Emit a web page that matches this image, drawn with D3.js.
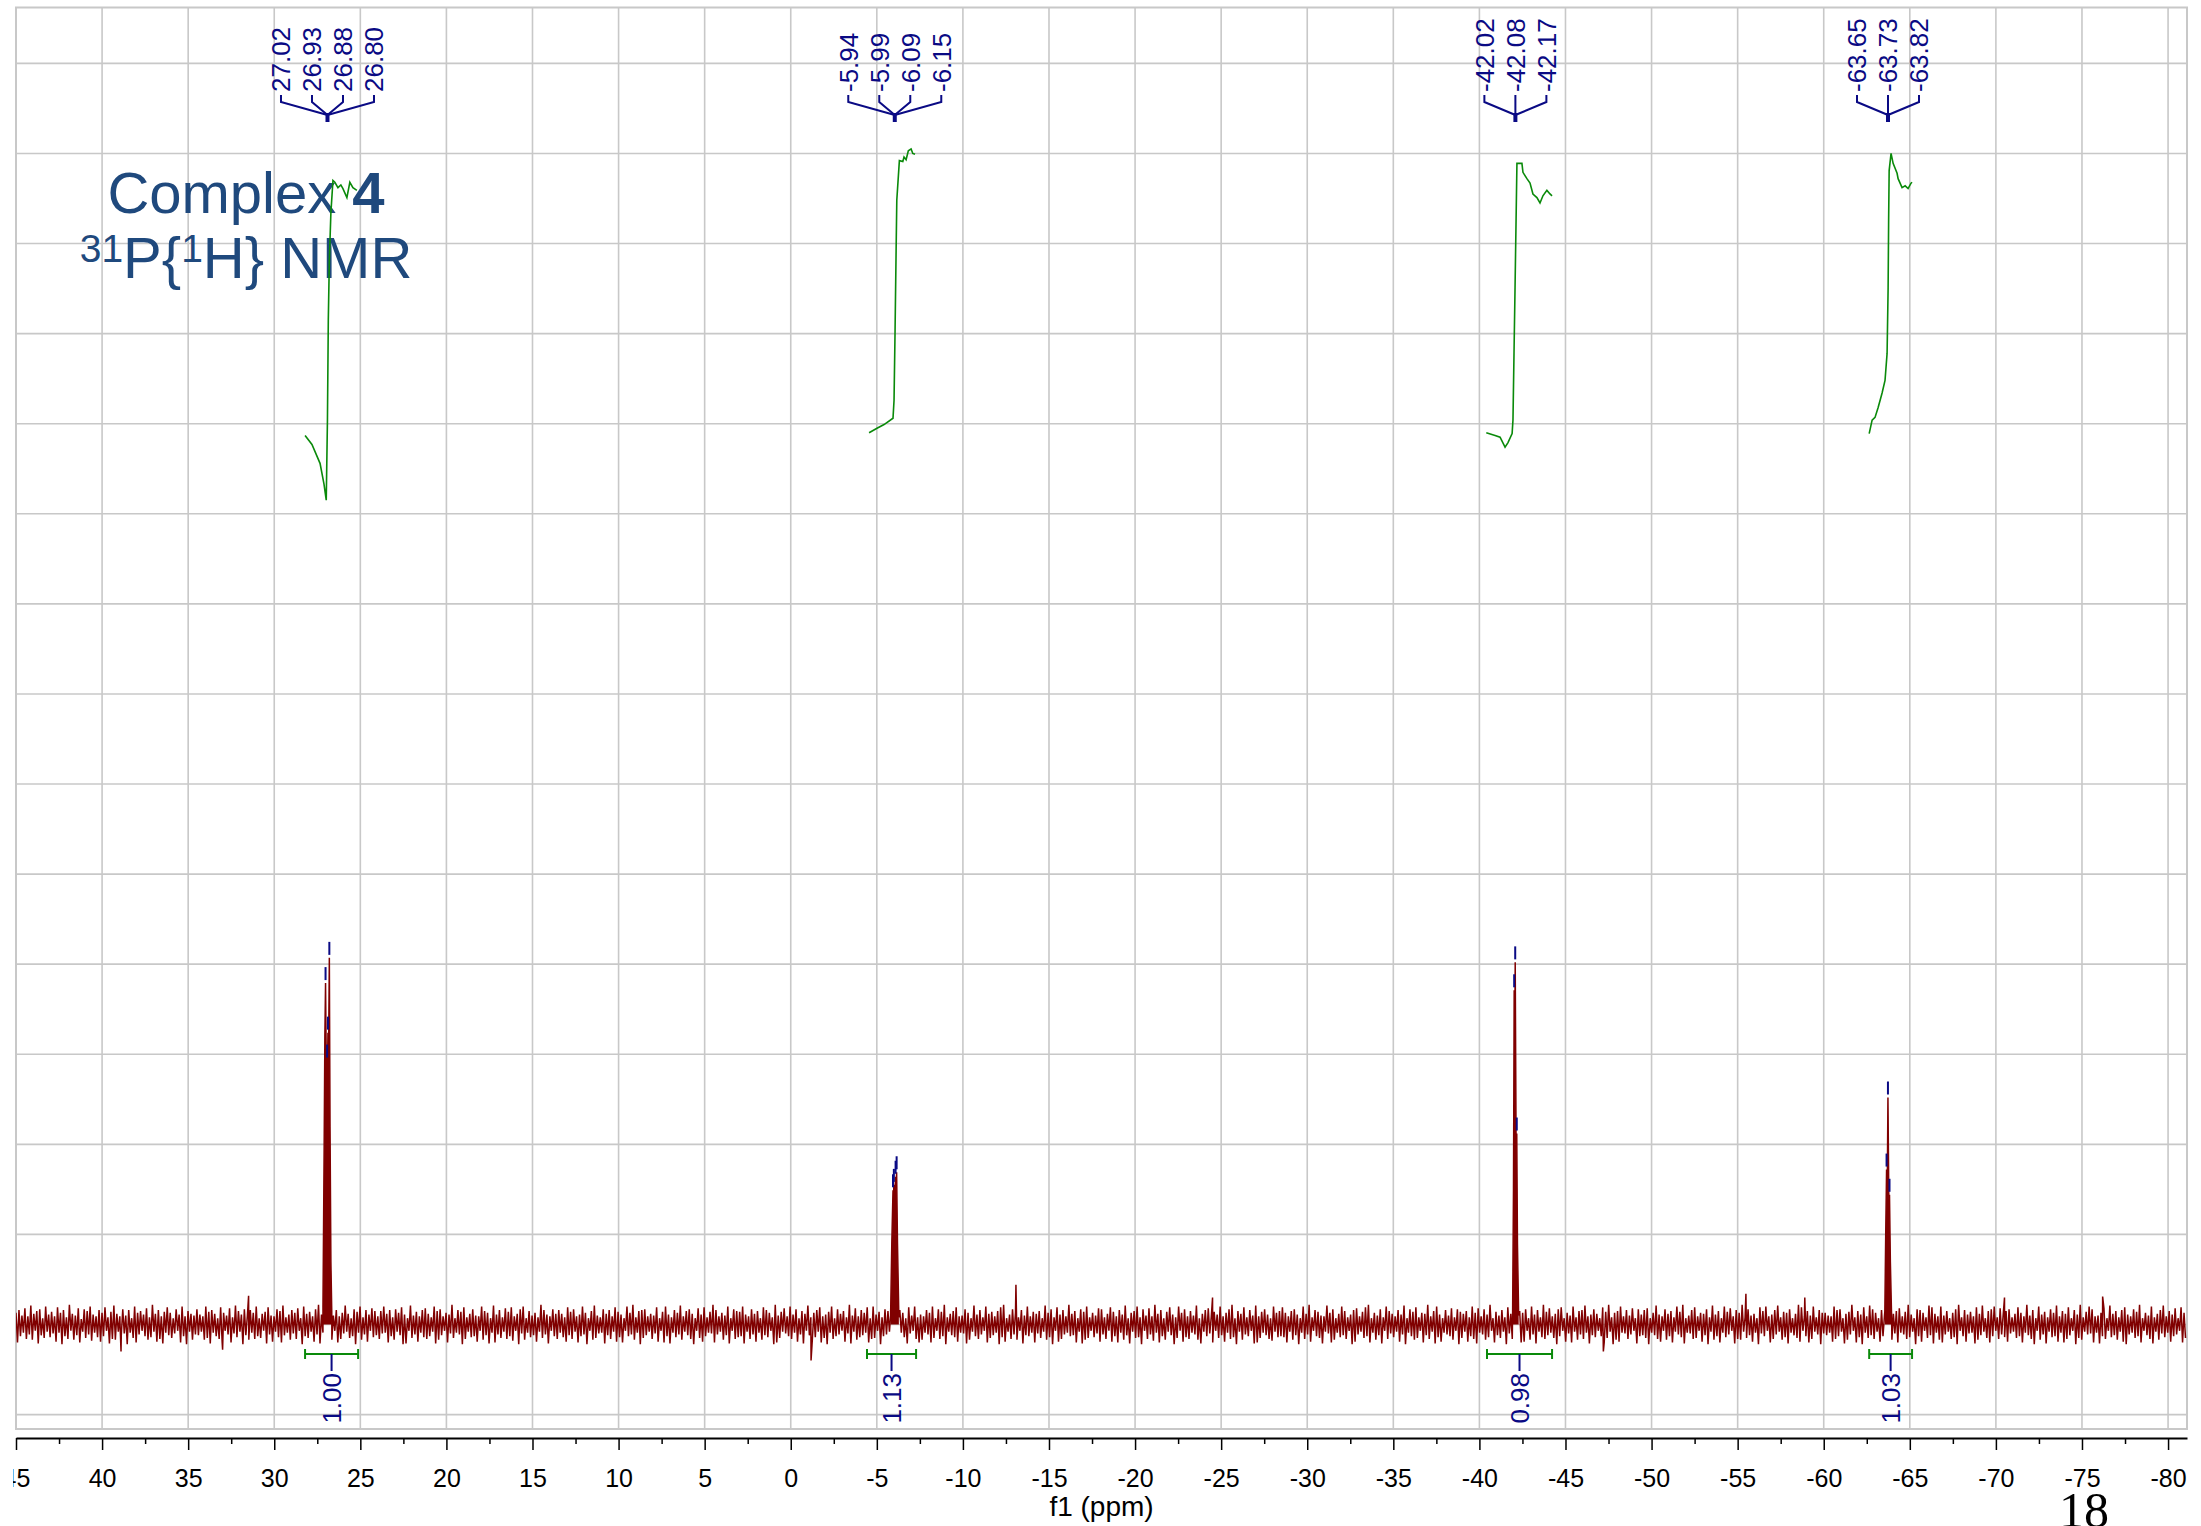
<!DOCTYPE html>
<html>
<head>
<meta charset="utf-8">
<script src="https://cdn.jsdelivr.net/npm/d3@7"></script>
<style>
  html, body { margin: 0; padding: 0; background: #ffffff; }
  svg { display: block; }
</style>
</head>
<body>
<svg id="chart" width="2201" height="1526"></svg>
<script>
// ---------------- data ----------------
// chemical-shift window (ppm, high field to the right) and intensity window (arbitrary units)
const ppmDomain = [45, -81.1];
const intensityDomain = [-116, 1462];

// axis tick labels (ppm)
const tickValues = [45, 40, 35, 30, 25, 20, 15, 10, 5, 0, -5, -10, -15, -20, -25, -30, -35,
                    -40, -45, -50, -55, -60, -65, -70, -75, -80];
const gridIntensities = [-100, 0, 100, 200, 300, 400, 500, 600, 700, 800, 900, 1000, 1100, 1200, 1300, 1400];

// picked peaks: shifts (ppm) and peak-top intensities
const peakShifts = [
  [27.02, 26.93, 26.88, 26.80],
  [-5.94, -5.99, -6.09, -6.15],
  [-42.02, -42.08, -42.17],
  [-63.65, -63.73, -63.82]
];
const peakHeights = [
  [379, 293, 324, 407],
  [149, 155, 164, 169],
  [371, 402, 212],
  [172, 252, 144]
];
// feet and valleys of each multiplet
const peakShoulders = [
  [[27.17, 20], [27.10, 200], [27.06, 320], [26.975, 280], [26.905, 285], [26.84, 310], [26.76, 220], [26.71, 70], [26.66, 15]],
  [[-5.80, 10], [-5.87, 90], [-5.965, 135], [-6.04, 142], [-6.12, 152], [-6.20, 90], [-6.28, 8]],
  [[-41.93, 15], [-41.98, 150], [-42.05, 310], [-42.13, 205], [-42.21, 90], [-42.28, 10]],
  [[-63.55, 15], [-63.60, 100], [-63.69, 152], [-63.78, 140], [-63.87, 70], [-63.94, 10]]
];

// integrals: region (ppm), value, and running-integral trace (ppm, intensity)
const integralRegions = [[28.21, 25.13], [-4.43, -7.28], [-40.44, -44.22], [-62.64, -65.13]];
const integralValues = ["1.00", "1.13", "0.98", "1.03"];
const integralCurves = [
  [[28.21, 987], [27.81, 977], [27.34, 956], [27.11, 933], [26.98, 915], [26.91, 1004], [26.86, 1115],
   [26.80, 1181], [26.71, 1234], [26.59, 1270], [26.48, 1268], [26.30, 1262], [26.13, 1265], [26.01, 1261],
   [25.78, 1251], [25.61, 1268], [25.43, 1262], [25.20, 1259]],
  [[-4.55, 990], [-5.01, 995], [-5.42, 999], [-5.94, 1006], [-6.00, 1026], [-6.06, 1104], [-6.12, 1192],
   [-6.16, 1248], [-6.31, 1292], [-6.51, 1291], [-6.58, 1296], [-6.70, 1293], [-6.83, 1303], [-6.99, 1305],
   [-7.09, 1300], [-7.22, 1299]],
  [[-40.40, 990], [-40.91, 987], [-41.20, 985], [-41.49, 974], [-41.66, 979], [-41.90, 989], [-41.95, 1004],
   [-42.01, 1078], [-42.07, 1151], [-42.13, 1226], [-42.18, 1289], [-42.47, 1289], [-42.53, 1279],
   [-42.76, 1272], [-42.94, 1267], [-43.11, 1255], [-43.34, 1251], [-43.52, 1245], [-43.69, 1253],
   [-43.92, 1259], [-44.10, 1255], [-44.22, 1253]],
  [[-62.64, 989], [-62.81, 1004], [-62.98, 1007], [-63.16, 1018], [-63.39, 1034], [-63.56, 1048],
   [-63.68, 1078], [-63.74, 1151], [-63.77, 1226], [-63.80, 1281], [-63.91, 1300], [-64.03, 1289],
   [-64.26, 1278], [-64.32, 1272], [-64.55, 1262], [-64.73, 1264], [-64.90, 1261], [-65.07, 1267],
   [-65.13, 1268]]
];

// baseline noise, one character per sample pair (base-36 amplitude above / below zero)
const noiseHigh =
  "dgai9lcfh7kbe9jdg8mcai6hfkb9gdj8elc9hag7kdfbi8mcg9ejd7hbk9fca" +
  "hb9kegc7jdai8lfbh9gdk7ceja9hfl8bgdi7kce9hmb8fjag9dlc7hek8gbif" +
  "9fkcg8hdjb7lae9gic8kfh9dbm7gej8cha9kfd7lbg8iej9chk7fad8mgb9hc" +
  "gc8jeh9bkd7fla8hcg9jeb7kdm8fgh9caj7ekb8gdl9fhc7ibj8emg9dak7hf" +
  "ekb9hcf7jgd8maei9kbh7fcl8dgj9bek7hcf8mai9gdj7kbe8hfc9lgd7jak8" +
  "b9gdk7hem8cfj9ahd7lbg8kce9fjm7bhd8gak9ecf7ldh8jbg9mcf7hek8dai" +
  "h8cje9gbl7dfk8hai9mcg7ejb8kdh9fal7cgi8ebk9dhm7fcj8gal9ehb7kdf" +
  "jd9fhb7kcm8gea9ldh7ckf8bgi9ejm7dah8kfc9gbl7hej8dcm9fkb7gai8he" +
  "cf8kdi9hbm7eag8jcl9fdh7kbg8mei9chj7dak8fgl9bhc7jem8dfk9gai7hb" +
  "gi7dlb9hcf8kem7agj9dch8lbf7kei9gdm8hac7jfk9bgl8edh7cmj9fak8gd" +
  "da9kgh7cem8fbj9lhd7gak8cfi9emb7hgd8ljc9kaf7dhm8gbe9jcl7fhk8ia" +
  "fh8cjd9mag7kbe8hdl9fcj7gbm8ekh9adi7lcf8gjb9hem7dak8cgl9fbi7jd";
const noiseLow =
  "kd9gbh7lcf8eaj9mdg7hck8fbi9ejd7lgh8cam9fkb7dhe8jgl9cfa7kdm8hb" +
  "c8hfl9dgj7bkae8mch9gdf7lbj8ekc9hag7mdf8jbl9ceh7kga8fdm9hbj7ec" +
  "ga9kdh8cml7fbj9egd8lhc7kaf9bmg8edj7hcl9kbf8gdi7mah9ecj8fbl7dg" +
  "9ejcg8kdbm7hfa9lcg8jek7dbh9mfc8gaj7kdl9ebh8cgm7fjd9akb8hcl7ge" +
  "dl8gbj9hce7mkf8adg9jbl7che8kfm9gdb7jal8hec9kgf7mdb8jch9ela7gk" +
  "h9bkf7gdm8cej9alh8dgb7kfc9mej8gbh7lcd9kaf8hem7jgb9dck8lhf7eaj" +
  "bg7jdk9hcl8fem7gbi9kdh8cmf7jeg9bhl8dak7fcj9gem8hbd7lkf9cgi8ed" +
  "ek8hcm9gbj7dfl8akh9ecg7mjb8fdk9hcl7gae8jbm9dhf7kcg8lej9bdh7mf" +
  "8jdgl9bhe7kcf8mag9dkj7hbl8egc9fmd7jak8hbg9lce7dkf8mhj9agb7ldc" +
  "fm9cgj7hdk8bel9agf7jcm8hdk9eb7lgh8fcj9mad7kgb8hel9cfj7dkg8bma" +
  "c9jgd8lhb7kem9fcg8jdl7hak9bge8mdj7fcl9hkb8gem7dja9lhc8fkd7gbe" +
  "ja8fdk9cgm7hbl8edj9kgc7mfh8bak9ldg7ech8jmb9fdk7cgl8hae9jdb7kfg";
// isolated noise excursions (ppm, intensity)
const noiseSpikes = [[31.49, 32], [38.9, -30], [33.0, -28], [-1.18, -40], [-13.08, 44], [-24.5, 30],
                     [-47.2, -30], [-55.48, 34], [-58.9, 30], [-70.5, 30], [-76.2, 31]];

// ---------------- drawing ----------------
const W = 2201, H = 1526;
const plot = { left: 16, right: 2187, top: 7.5, bottom: 1429 };
const axisY = 1438;

const x = d3.scaleLinear().domain(ppmDomain).range([plot.left, plot.right]);
const y = d3.scaleLinear().domain(intensityDomain).range([plot.bottom, plot.top]);

const svg = d3.select("#chart");
const sansFont = "'Liberation Sans', Arial, sans-serif";
const gridColor = "#c8c8c8";
const navy = "#0a0a84";
const green = "#0a8a0a";
const maroon = "#800000";

svg.append("rect").attr("width", W).attr("height", H).attr("fill", "#ffffff");

const defs = svg.append("defs");
defs.append("clipPath").attr("id", "plotClip")
  .append("rect").attr("x", plot.left).attr("y", plot.top)
  .attr("width", plot.right - plot.left).attr("height", plot.bottom - plot.top);
defs.append("clipPath").attr("id", "axisClip")
  .append("rect").attr("x", plot.left - 3).attr("y", axisY - 5)
  .attr("width", W - plot.left + 3).attr("height", H - axisY + 5);

// grid
const grid = svg.append("g").attr("stroke", gridColor).attr("stroke-width", 1.6);
grid.selectAll("line.v").data(tickValues).join("line")
  .attr("x1", d => x(d)).attr("x2", d => x(d))
  .attr("y1", plot.top).attr("y2", plot.bottom);
grid.selectAll("line.h").data(gridIntensities).join("line")
  .attr("x1", plot.left).attr("x2", plot.right)
  .attr("y1", d => y(d)).attr("y2", d => y(d));
svg.append("rect")
  .attr("x", plot.left).attr("y", plot.top)
  .attr("width", plot.right - plot.left).attr("height", plot.bottom - plot.top)
  .attr("fill", "none").attr("stroke", gridColor).attr("stroke-width", 2);

// title
const title = svg.append("g").attr("fill", "#1f497d").attr("font-family", sansFont)
  .attr("text-anchor", "middle");
const t1 = title.append("text").attr("x", 246).attr("y", 213).attr("font-size", 58);
t1.append("tspan").text("Complex ");
t1.append("tspan").attr("font-weight", "bold").text("4");
const t2 = title.append("text").attr("x", 246).attr("y", 278).attr("font-size", 58);
t2.append("tspan").attr("font-size", 39).attr("dy", -16).text("31");
t2.append("tspan").attr("dy", 16).text("P{");
t2.append("tspan").attr("font-size", 39).attr("dy", -16).text("1");
t2.append("tspan").attr("dy", 16).text("H} NMR");

// spectrum trace
const nNoise = Math.min(noiseHigh.length, noiseLow.length);
const noiseStep = (ppmDomain[0] - ppmDomain[1]) / nNoise;
let trace = [];
for (let i = 0; i < nNoise; i++) {
  const p = ppmDomain[0] - i * noiseStep;
  trace.push([p, parseInt(noiseHigh[i], 36)]);
  trace.push([p - noiseStep / 2, -parseInt(noiseLow[i], 36)]);
}
noiseSpikes.forEach(s => trace.push(s));
const multiplets = peakShifts.map((shifts, g) => {
  const tops = shifts.map((p, k) => [p, peakHeights[g][k]]);
  return tops.concat(peakShoulders[g]).sort((a, b) => b[0] - a[0]);
});
multiplets.forEach(m => {
  const hi = m[0][0], lo = m[m.length - 1][0];
  trace = trace.filter(d => d[0] > hi || d[0] < lo);
  trace = trace.concat(m);
});
trace.sort((a, b) => b[0] - a[0]);

const spec = svg.append("g").attr("clip-path", "url(#plotClip)");
// solid body under each multiplet
multiplets.forEach(m => {
  spec.append("path")
    .attr("d", d3.area().x(d => x(d[0])).y0(y(0)).y1(d => y(d[1]))(m))
    .attr("fill", maroon);
});
spec.append("path")
  .attr("d", d3.line().x(d => x(d[0])).y(d => y(d[1]))(trace))
  .attr("fill", "none").attr("stroke", maroon).attr("stroke-width", 1.5)
  .attr("stroke-linejoin", "miter");

// peak-pick markers above each line
const markers = svg.append("g").attr("stroke", navy).attr("stroke-width", 2);
peakShifts.forEach((shifts, g) => {
  shifts.forEach((p, k) => {
    const top = y(peakHeights[g][k]);
    markers.append("line")
      .attr("x1", x(p)).attr("x2", x(p))
      .attr("y1", top - 3).attr("y2", top - 16);
  });
});

// integral traces
const integ = svg.append("g").attr("fill", "none").attr("stroke", green).attr("stroke-width", 1.6);
integralCurves.forEach(c => {
  integ.append("path").attr("d", d3.line().x(d => x(d[0])).y(d => y(d[1]))(c));
});

// integral brackets and values
const bracketY = 1354;
const brackets = svg.append("g");
integralRegions.forEach((r, i) => {
  const x1 = x(r[0]), x2 = x(r[1]), xm = x((r[0] + r[1]) / 2);
  const g = brackets.append("g");
  g.append("line").attr("x1", x1).attr("x2", x2).attr("y1", bracketY).attr("y2", bracketY)
    .attr("stroke", green).attr("stroke-width", 2);
  [x1, x2].forEach(xx => g.append("line").attr("x1", xx).attr("x2", xx)
    .attr("y1", bracketY - 5).attr("y2", bracketY + 5).attr("stroke", green).attr("stroke-width", 2));
  g.append("line").attr("x1", xm).attr("x2", xm).attr("y1", bracketY).attr("y2", bracketY + 17)
    .attr("stroke", navy).attr("stroke-width", 2);
  g.append("text")
    .attr("transform", `translate(${xm},${bracketY + 19}) rotate(-90)`)
    .attr("text-anchor", "end").attr("dy", "0.36em")
    .attr("font-family", sansFont).attr("font-size", 26).attr("fill", navy)
    .text(integralValues[i]);
});

// peak labels with connector lines
const labelGap = 31;
const labelBottom = 92;
const lab = svg.append("g");
peakShifts.forEach(shifts => {
  const meet = x(d3.mean(shifts));
  const n = shifts.length;
  shifts.forEach((p, k) => {
    const lx = meet + (k - (n - 1) / 2) * labelGap;
    lab.append("text")
      .attr("transform", `translate(${lx},${labelBottom}) rotate(-90)`)
      .attr("dy", "0.36em")
      .attr("font-family", sansFont).attr("font-size", 26).attr("fill", navy)
      .text(p.toFixed(2));
    lab.append("path")
      .attr("d", `M${lx},${labelBottom + 3}V${labelBottom + 10}L${meet},${labelBottom + 23}`)
      .attr("fill", "none").attr("stroke", navy).attr("stroke-width", 2);
  });
  lab.append("line").attr("x1", meet).attr("x2", meet)
    .attr("y1", labelBottom + 21).attr("y2", labelBottom + 30)
    .attr("stroke", navy).attr("stroke-width", 4);
});

// bottom ppm axis (labels clipped at the left edge of the window)
const axisOuter = svg.append("g").attr("clip-path", "url(#axisClip)");
const axisG = axisOuter.append("g").attr("transform", `translate(0,${axisY})`);
axisG.append("g")
  .call(d3.axisBottom(x).tickValues(d3.range(42.5, -81, -5)).tickSize(6).tickSizeOuter(0).tickFormat(""))
  .call(g => g.select(".domain").remove())
  .call(g => g.selectAll(".tick line").attr("stroke", "#000").attr("stroke-width", 1.5));
axisG.append("g")
  .call(d3.axisBottom(x).tickValues(tickValues).tickSize(12).tickSizeOuter(0).tickPadding(19)
        .tickFormat(d => String(d)))
  .call(g => g.select(".domain").attr("stroke", "#000").attr("stroke-width", 2))
  .call(g => g.selectAll(".tick line").attr("stroke", "#000").attr("stroke-width", 1.5))
  .call(g => g.selectAll(".tick text").attr("fill", "#000"))
  .attr("font-family", sansFont).attr("font-size", 25);

svg.append("text")
  .attr("x", (plot.left + plot.right) / 2).attr("y", 1516)
  .attr("text-anchor", "middle").attr("font-family", sansFont).attr("font-size", 28).attr("fill", "#000")
  .text("f1 (ppm)");

svg.append("text")
  .attr("x", 2059).attr("y", 1527)
  .attr("font-family", "'Liberation Serif', 'Times New Roman', serif").attr("font-size", 50).attr("fill", "#000")
  .text("18");
</script>
</body>
</html>
